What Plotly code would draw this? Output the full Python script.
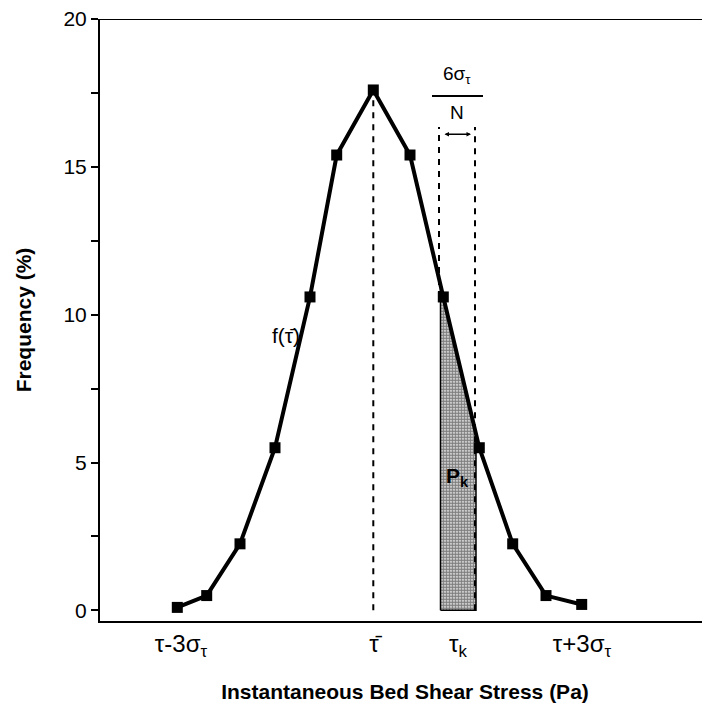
import numpy as np
import plotly.graph_objects as go

# ---- data ----
shear_stress = [77.3, 106.7, 140.0, 175.0, 210.0, 236.7, 273.3, 310.0, 343.3, 379.3, 412.7, 446.0, 481.7]
frequency = [0.1, 0.5, 2.25, 5.5, 10.6, 15.4, 17.6, 15.4, 10.6, 5.5, 2.25, 0.5, 0.2]
tau_mean = 273.3
tau_k_bin = [340.5, 376.0]
dash_top = 16.35
xtick_vals = [81, 274, 358, 482]
xtick_text = ["τ-3σ<sub>τ</sub>", "τ̄", "τ<sub>k</sub>", "τ+3σ<sub>τ</sub>"]
ytick_vals = [0, 5, 10, 15, 20]
ytick_minor = [2.5, 7.5, 12.5, 17.5]

FONT = "Arial, Liberation Sans, sans-serif"

fig = go.Figure()

# shaded bin area under curve (top follows the curve)
xs = np.linspace(tau_k_bin[0], tau_k_bin[1], 40)
ys = np.interp(xs, shear_stress, frequency)
poly_x = [tau_k_bin[0]] + list(xs) + [tau_k_bin[1], tau_k_bin[0]]
poly_y = [0] + list(ys) + [0, 0]
fig.add_trace(go.Scatter(
    x=poly_x, y=poly_y, mode="lines", fill="toself",
    line=dict(color="black", width=1.5),
    fillcolor="white",
    fillpattern=dict(shape=".", fgcolor="black", bgcolor="white", size=3, solidity=0.75),
    hoverinfo="skip", showlegend=False))

# dashed lines
fig.add_trace(go.Scatter(x=[tau_mean, tau_mean], y=[0, max(frequency)], mode="lines",
                         line=dict(color="black", width=2, dash="6px,6px"), showlegend=False))
i_left = int(np.argmin(np.abs(np.array(shear_stress) - tau_k_bin[0])))
fig.add_trace(go.Scatter(x=[tau_k_bin[0] - 1.5, tau_k_bin[0] - 1.5], y=[frequency[i_left], dash_top], mode="lines",
                         line=dict(color="black", width=2, dash="6px,6px"), showlegend=False))
fig.add_trace(go.Scatter(x=[tau_k_bin[1] - 1, tau_k_bin[1] - 1], y=[0, dash_top], mode="lines",
                         line=dict(color="black", width=2, dash="6px,6px"), showlegend=False))

# main curve
fig.add_trace(go.Scatter(x=shear_stress, y=frequency, mode="lines+markers",
                         line=dict(color="black", width=4),
                         marker=dict(symbol="square", size=11, color="black"),
                         showlegend=False))

annos = [
    dict(x=186, y=9.3, text="f(τ̄)", showarrow=False, font=dict(size=21, color="black", family=FONT)),
    dict(x=357, y=4.5, text="<b>P<sub>k</sub></b>", showarrow=False, font=dict(size=21, color="black", family=FONT)),
    dict(x=357, y=18.1, text="6σ<sub>τ</sub>", showarrow=False, font=dict(size=19, color="black", family=FONT)),
    dict(x=357, y=16.85, text="N", showarrow=False, font=dict(size=19, color="black", family=FONT)),
    dict(x=371, y=16.1, ax=343, ay=16.1, xref="x", yref="y", axref="x", ayref="y",
         text="", showarrow=True, arrowhead=2, arrowsize=0.6, arrowwidth=1.5, arrowcolor="black",
         arrowside="end+start"),
]

shapes = [
    dict(type="line", xref="paper", yref="y", x0=0, x1=1, y0=20, y1=20, line=dict(color="black", width=2)),
    dict(type="line", xref="x", yref="y", x0=332, x1=383, y0=17.4, y1=17.4, line=dict(color="black", width=2)),
]

fig.update_layout(
    width=702, height=697,
    margin=dict(l=92, r=0, t=11, b=84),
    plot_bgcolor="white", paper_bgcolor="white",
    font=dict(family=FONT, color="black"),
    annotations=annos, shapes=shapes,
    xaxis=dict(range=[0, 610], showgrid=False, zeroline=False, showline=True, linecolor="black", linewidth=2,
               automargin=False,
               tickmode="array", tickvals=xtick_vals, ticktext=xtick_text, ticks="",
               tickfont=dict(size=24, family=FONT), ticklabelstandoff=0,
               title=dict(text="<b>Instantaneous Bed Shear Stress (Pa)</b>", font=dict(size=21, family=FONT), standoff=24)),
    yaxis=dict(range=[-0.36, 20], showgrid=False, zeroline=False, showline=True, linecolor="black", linewidth=2,
               automargin=False, ticklabeloverflow="allow",
               tickmode="array", tickvals=ytick_vals, ticks="outside", ticklen=7, tickwidth=1.5, tickcolor="black",
               minor=dict(tickmode="array", tickvals=ytick_minor, ticks="outside", ticklen=7, tickwidth=1.5, tickcolor="black"),
               tickfont=dict(size=21, family=FONT), ticklabelstandoff=0,
               title=dict(text="<b>Frequency (%)</b>", font=dict(size=21, family=FONT), standoff=26)),
)

fig.write_html("out.html")
